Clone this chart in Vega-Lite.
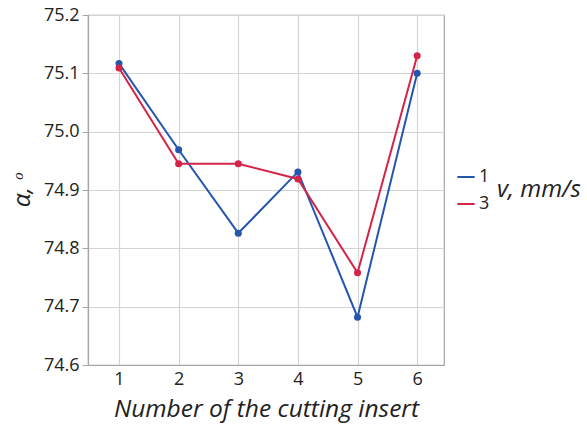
{
  "$schema": "https://vega.github.io/schema/vega-lite/v6.json",
  "width": 356,
  "height": 350,
  "autosize": {"type": "none"},
  "padding": {"left": 88, "top": 15, "right": 143, "bottom": 63},
  "background": "white",
  "config": {
    "font": "Open Sans",
    "view": {"stroke": "#a6a6a6", "strokeWidth": 1.2},
    "axis": {
      "labelFont": "Open Sans",
      "labelFontSize": 18,
      "labelColor": "#222222",
      "gridColor": "#d4d4d4",
      "gridWidth": 1.2,
      "domainColor": "#a6a6a6",
      "domainWidth": 1.2,
      "tickColor": "#a6a6a6",
      "titleFont": "Open Sans",
      "titleFontSize": 24.5,
      "titleFontStyle": "italic",
      "titleFontWeight": "normal",
      "titleColor": "#222222"
    }
  },
  "data": {
    "values": [
      {"insert": 1, "v": "1", "alpha": 75.117},
      {"insert": 2, "v": "1", "alpha": 74.969},
      {"insert": 3, "v": "1", "alpha": 74.826},
      {"insert": 4, "v": "1", "alpha": 74.931},
      {"insert": 5, "v": "1", "alpha": 74.682},
      {"insert": 6, "v": "1", "alpha": 75.1},
      {"insert": 1, "v": "3", "alpha": 75.109},
      {"insert": 2, "v": "3", "alpha": 74.945},
      {"insert": 3, "v": "3", "alpha": 74.945},
      {"insert": 4, "v": "3", "alpha": 74.919},
      {"insert": 5, "v": "3", "alpha": 74.758},
      {"insert": 6, "v": "3", "alpha": 75.13}
    ]
  },
  "encoding": {
    "x": {
      "field": "insert",
      "type": "quantitative",
      "scale": {"domain": [0.48, 6.45], "nice": false, "zero": false},
      "axis": {
        "values": [1, 2, 3, 4, 5, 6],
        "title": "Number of the cutting insert",
        "ticks": false,
        "labelPadding": 5,
        "titlePadding": 9
      }
    },
    "y": {
      "field": "alpha",
      "type": "quantitative",
      "scale": {"domain": [74.6, 75.2], "nice": false, "zero": false},
      "axis": {
        "values": [74.6, 74.7, 74.8, 74.9, 75.0, 75.1, 75.2],
        "format": ".1f",
        "title": "α, ᵒ",
        "tickSize": 6,
        "labelPadding": 3,
        "titlePadding": 9
      }
    },
    "color": {
      "field": "v",
      "type": "nominal",
      "scale": {"domain": ["1", "3"], "range": ["#2456ad", "#d42448"]},
      "legend": {
        "title": "v, mm/s",
        "titleOrient": "right",
        "titleFont": "Open Sans",
        "titleFontSize": 24,
        "titleFontStyle": "italic",
        "titleFontWeight": "normal",
        "titleColor": "#222222",
        "titleAnchor": "middle",
        "titleBaseline": "middle",
        "titlePadding": 8,
        "labelFont": "Open Sans",
        "labelFontSize": 18,
        "labelColor": "#222222",
        "symbolType": "stroke",
        "symbolSize": 300,
        "symbolStrokeWidth": 2,
        "labelOffset": 3,
        "rowPadding": 8,
        "orient": "none",
        "legendX": 368,
        "legendY": 152
      }
    }
  },
  "layer": [
    {"mark": {"type": "line", "strokeWidth": 2}},
    {"mark": {"type": "point", "filled": true, "opacity": 1, "size": 50}}
  ]
}
